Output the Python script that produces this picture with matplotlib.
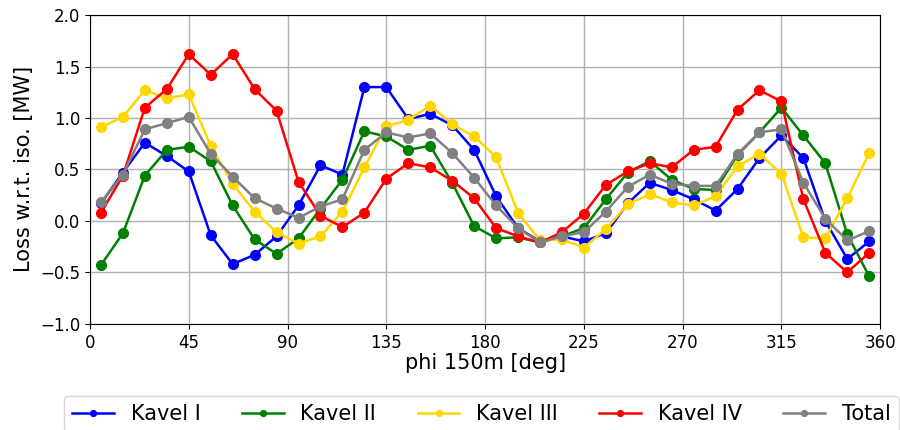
import matplotlib
matplotlib.use("Agg")
import matplotlib.pyplot as plt
import numpy as np

phi = np.arange(5, 360, 10)

kavel_1 = [0.17, 0.47, 0.76, 0.63, 0.48, -0.14, -0.42, -0.33, -0.15,
           0.15, 0.54, 0.45, 1.30, 1.30, 0.99, 1.04, 0.93, 0.69,
           0.24, -0.07, -0.20, -0.15, -0.20, -0.12, 0.17, 0.37, 0.30,
           0.21, 0.10, 0.31, 0.61, 0.83, 0.61, 0.00, -0.37, -0.20]
kavel_2 = [-0.43, -0.12, 0.44, 0.69, 0.72, 0.58, 0.15, -0.18, -0.32,
           -0.17, 0.12, 0.40, 0.87, 0.82, 0.69, 0.73, 0.37, -0.05,
           -0.17, -0.16, -0.21, -0.15, -0.07, 0.21, 0.47, 0.58, 0.40,
           0.31, 0.30, 0.64, 0.86, 1.10, 0.83, 0.56, -0.13, -0.54]
kavel_3 = [0.91, 1.01, 1.27, 1.19, 1.23, 0.73, 0.36, 0.09, -0.11,
           -0.22, -0.15, 0.09, 0.52, 0.92, 0.98, 1.12, 0.94, 0.82,
           0.62, 0.08, -0.19, -0.18, -0.26, -0.08, 0.16, 0.26, 0.18,
           0.15, 0.24, 0.53, 0.65, 0.46, -0.16, -0.17, 0.22, 0.66]
kavel_4 = [0.08, 0.44, 1.10, 1.28, 1.62, 1.42, 1.62, 1.28, 1.07,
           0.38, 0.05, -0.06, 0.08, 0.41, 0.56, 0.52, 0.39, 0.22,
           -0.07, -0.15, -0.21, -0.11, 0.07, 0.35, 0.48, 0.56, 0.52,
           0.69, 0.72, 1.08, 1.27, 1.16, 0.21, -0.31, -0.50, -0.31]
total = [0.18, 0.45, 0.89, 0.95, 1.01, 0.65, 0.43, 0.22, 0.12,
         0.03, 0.14, 0.21, 0.69, 0.86, 0.81, 0.85, 0.66, 0.42,
         0.15, -0.07, -0.21, -0.15, -0.11, 0.09, 0.33, 0.45, 0.36,
         0.34, 0.34, 0.65, 0.86, 0.89, 0.37, 0.02, -0.19, -0.10]

series = [("Kavel I", kavel_1, "blue"),
          ("Kavel II", kavel_2, "green"),
          ("Kavel III", kavel_3, "gold"),
          ("Kavel IV", kavel_4, "red"),
          ("Total", total, "gray")]

fig = plt.figure(figsize=(9, 4.3), dpi=100)
ax = fig.add_axes([0.10, 0.247, 0.878, 0.718])

for name, vals, col in series:
    ax.plot(phi, vals, marker="o", markersize=7, linewidth=1.8, color=col, label=name)

ax.set_xlim(0, 360)
ax.set_ylim(-1.0, 2.0)
ax.set_xticks(np.arange(0, 361, 45))
ax.set_yticks(np.arange(-1.0, 2.01, 0.5))
ax.tick_params(labelsize=12)
ax.set_xlabel("phi 150m [deg]", fontsize=15, labelpad=1)
ax.set_ylabel("Loss w.r.t. iso. [MW]", fontsize=15)
ax.grid(color="#b0b0b0", linewidth=1)

fig.legend(loc="upper left", bbox_to_anchor=(0.071, 0.08), ncol=5,
           fontsize=15, markerscale=0.6, handlelength=2, columnspacing=2.0,
           borderaxespad=0)

plt.savefig("out.png", dpi=100)
